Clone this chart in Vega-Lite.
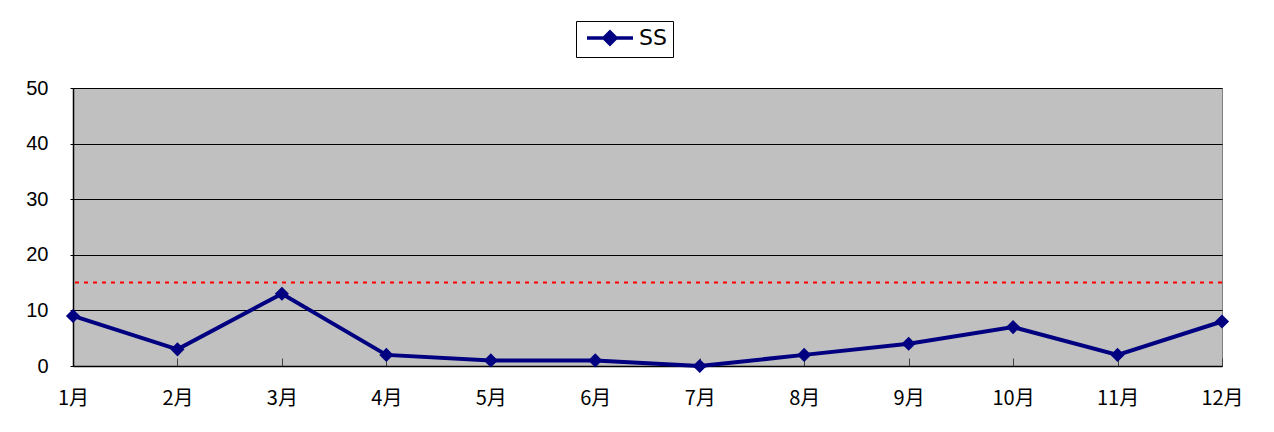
{
  "$schema": "https://vega.github.io/schema/vega-lite/v6.json",
  "width": 1149,
  "height": 278,
  "autosize": {"type": "none"},
  "padding": {"left": 73, "top": 88, "right": 52, "bottom": 66},
  "background": "white",
  "config": {
    "view": {"fill": "#C0C0C0", "stroke": "#808080", "strokeWidth": 1},
    "font": "Liberation Sans"
  },
  "datasets": {
    "main": [
      {"month": "1月", "value": 9, "series": "SS"},
      {"month": "2月", "value": 3, "series": "SS"},
      {"month": "3月", "value": 13, "series": "SS"},
      {"month": "4月", "value": 2, "series": "SS"},
      {"month": "5月", "value": 1, "series": "SS"},
      {"month": "6月", "value": 1, "series": "SS"},
      {"month": "7月", "value": 0, "series": "SS"},
      {"month": "8月", "value": 2, "series": "SS"},
      {"month": "9月", "value": 4, "series": "SS"},
      {"month": "10月", "value": 7, "series": "SS"},
      {"month": "11月", "value": 2, "series": "SS"},
      {"month": "12月", "value": 8, "series": "SS"}
    ],
    "limit": [{"value": 15}]
  },
  "layer": [
    {
      "data": {"name": "main"},
      "mark": {"type": "line", "strokeWidth": 4, "point": {"shape": "diamond", "size": 200, "filled": true, "color": "#000080", "opacity": 1}},
      "encoding": {
        "x": {
          "field": "month", "type": "ordinal", "sort": null,
          "scale": {"type": "point", "padding": 0},
          "axis": {
            "title": null, "labelAngle": 0, "labelFontSize": 20, "labelFont": "Noto Sans CJK JP",
            "labelColor": "black", "labelPadding": 30, "tickSize": -8, "tickColor": "#404040",
            "domainColor": "black", "domainWidth": 1.5, "grid": false
          }
        },
        "y": {
          "field": "value", "type": "quantitative",
          "scale": {"domain": [0, 50], "nice": false},
          "axis": {
            "title": null, "values": [0, 10, 20, 30, 40, 50], "labelFontSize": 20,
            "labelColor": "black", "labelPadding": 22, "tickSize": 3, "tickColor": "black",
            "domainColor": "black", "domainWidth": 1.5, "grid": true, "gridColor": "black", "gridWidth": 1
          }
        },
        "color": {
          "field": "series", "type": "nominal",
          "scale": {"range": ["#000080"]},
          "legend": {
            "title": null, "orient": "none", "legendX": 503, "legendY": -67,
            "strokeColor": "black", "fillColor": "white", "padding": 6,
            "symbolType": "M-1,0L6.67,0M2.83,-1L3.83,0L2.83,1L1.83,0Z",
            "symbolSize": 144, "symbolStrokeWidth": 3.5, "symbolFillColor": "#000080", "symbolStrokeColor": "#000080",
            "labelFontSize": 22, "labelFont": "DejaVu Sans", "labelColor": "black", "labelOffset": 35
          }
        }
      }
    },
    {
      "data": {"name": "limit"},
      "mark": {"type": "rule", "color": "#FF0000", "strokeWidth": 2, "strokeDash": [4, 5]},
      "encoding": {"y": {"field": "value", "type": "quantitative"}}
    }
  ]
}
